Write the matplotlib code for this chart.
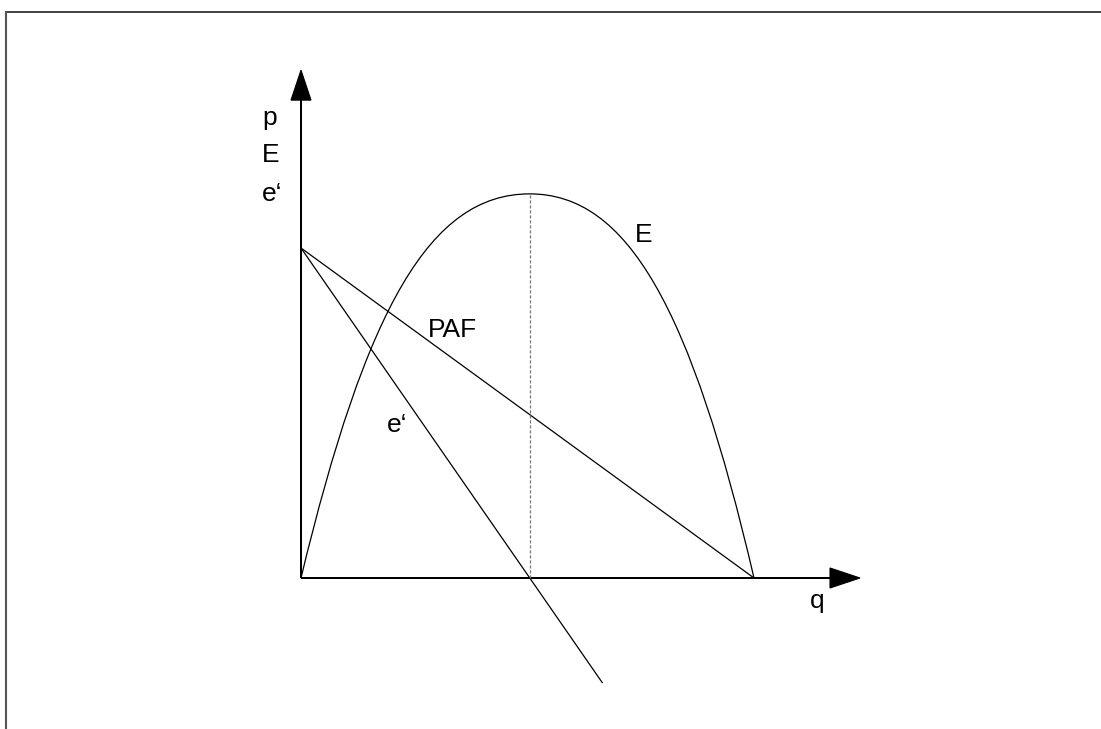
import matplotlib
matplotlib.use("Agg")
import matplotlib.pyplot as plt
from matplotlib.path import Path
from matplotlib.patches import PathPatch
from matplotlib.lines import Line2D

# values (q units along x, value units along y)
q_mid = 5.05          # revenue maximum / e' = 0
q_end = 10.0          # PAF hits the q axis
p_max = 10.0          # PAF intercept
E_max = 11.64         # height of the E curve at its top

paf_q = [0, q_end]
paf_p = [p_max, 0]

marg_q = [0, q_mid, 6.65]
marg_e = [p_max, 0, -3.17]

# E curve as two cubic Bezier pieces (control points)
E_q = [0, 1.435, 2.848, q_mid, 7.21, 8.61, q_end]
E_v = [0, 8.18, E_max, E_max, E_max, 8.18, 0]

x_axis_tip = 12.34
y_axis_tip = 15.39

labels = [
    ("p", -0.86, 13.73),
    ("E", -0.86, 12.61),
    ("e\u2018", -0.86, 11.42),
    ("E", 7.37, 10.18),
    ("PAF", 2.80, 7.30),
    ("e\u2018", 1.90, 4.42),
    ("q", 11.24, -0.91),
]

W, H = 1101, 729
fig = plt.figure(figsize=(W / 100, H / 100), dpi=100)
ax = fig.add_axes([0, 0, 1, 1])
ax.set_xlim(-301 / 45.3, (W - 301) / 45.3)
ax.set_ylim((578 - H) / 33, 578 / 33)
ax.axis("off")

# frame around the drawing (only top and left edge are inside the picture)
fig.add_artist(Line2D([6 / W, 1], [1 - 12 / H, 1 - 12 / H], color="#222222", lw=1.2))
fig.add_artist(Line2D([6 / W, 6 / W], [0, 1 - 12 / H], color="#555555", lw=1.5))

# axes with arrow heads
ax.arrow(0, 0, 0, y_axis_tip, width=0, head_width=20 / 45.3, head_length=30 / 33,
         length_includes_head=True, fc="k", ec="k", lw=0.8)
ax.arrow(0, 0, x_axis_tip, 0, width=0, head_width=20 / 33, head_length=30 / 45.3,
         length_includes_head=True, fc="k", ec="k", lw=0.8)

# price-demand line and marginal revenue
ax.plot(paf_q, paf_p, color="k", lw=0.9)
ax.plot(marg_q, marg_e, color="k", lw=0.9)

# revenue curve E
codes = [Path.MOVETO] + [Path.CURVE4] * 6
ax.add_patch(PathPatch(Path(list(zip(E_q, E_v)), codes), fill=False, ec="k", lw=0.9))

# dotted guide from the maximum down to the q axis
ax.plot([q_mid, q_mid], [0, E_max], color="#777777", lw=0.9, ls=(0, (2.5, 1.5)))

for txt, x, y in labels:
    ax.text(x, y, txt, fontsize=19, family=["Liberation Sans", "DejaVu Sans"],
            ha="left", va="baseline")

fig.savefig("out.png", dpi=100)
